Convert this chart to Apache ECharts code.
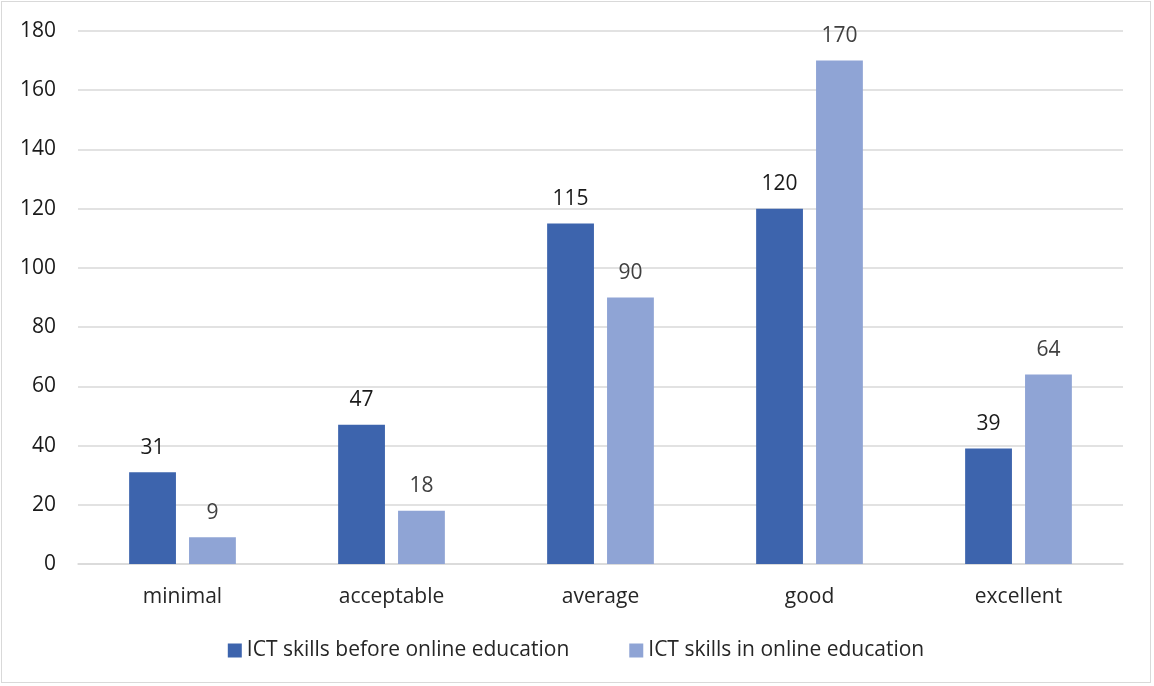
<!DOCTYPE html>
<html><head><meta charset="utf-8">
<script src="https://cdn.jsdelivr.net/npm/echarts@6/dist/echarts.min.js"></script>
<style>html,body{margin:0;padding:0;background:#fff}#c{position:absolute;left:1px;top:1px;width:1150px;height:682px;border:1px solid #d9d9d9;box-sizing:border-box}</style>
</head><body><div id="c"></div>
<script>
const categories = ['minimal','acceptable','average','good','excellent'];
const seriesNames = ['ICT skills before online education','ICT skills in online education'];
const before = [31,47,115,120,39];
const inOnline = [9,18,90,170,64];
const yTicks = {min:0,max:180,interval:20};
const font = '"Open Sans", sans-serif';
const fs = 21;
const chart = echarts.init(document.getElementById('c'));
chart.setOption({
  animation:false,
  textStyle:{fontFamily:font},
  grid:{left:76,right:27,top:29,bottom:118},
  legend:{bottom:16,left:'center',itemWidth:14,itemHeight:14,itemGap:60,icon:'rect',
    textStyle:{fontFamily:font,fontSize:fs,color:'#262626'},data:seriesNames},
  xAxis:{type:'category',data:categories,axisLine:{lineStyle:{color:'#d9d9d9',width:1.5}},axisTick:{show:false},
    axisLabel:{fontFamily:font,fontSize:fs,color:'#262626',margin:23}},
  yAxis:{type:'value',min:yTicks.min,max:yTicks.max,interval:yTicks.interval,
    splitLine:{lineStyle:{color:'#d9d9d9',width:1.5}},axisLine:{show:false},axisTick:{show:false},
    axisLabel:{fontFamily:font,fontSize:fs,color:'#1a1a1a',margin:22}},
  series:[
    {name:seriesNames[0],type:'bar',data:before,barWidth:'22.4%',barGap:'28%',itemStyle:{color:'#3d64ad'},
     label:{show:true,position:'top',distance:14,fontFamily:font,fontSize:fs,color:'#1a1a1a'}},
    {name:seriesNames[1],type:'bar',data:inOnline,barWidth:'22.4%',itemStyle:{color:'#8fa4d5'},
     label:{show:true,position:'top',distance:14,fontFamily:font,fontSize:fs,color:'#404040'}}
  ]
});
</script></body></html>
